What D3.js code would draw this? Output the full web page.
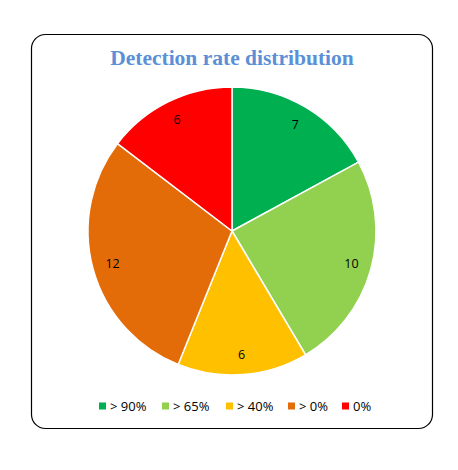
<!DOCTYPE html>
<html>
<head>
<meta charset="utf-8">
<script src="https://cdn.jsdelivr.net/npm/d3@7"></script>
<style>
body { margin: 0; background: #fff; }
</style>
</head>
<body>
<div id="chart"></div>
<script>
const categories = ["> 90%", "> 65%", "> 40%", "> 0%", "0%"]
const counts = [7, 10, 6, 12, 6]
const colors = ["#00B050", "#92D050", "#FFC000", "#E36C09", "#FF0000"]

const width = 458, height = 470
const cx = 232, cy = 231, radius = 144

const svg = d3.select("#chart")
    .append("svg")
    .attr("width", width)
    .attr("height", height)

// frame
svg.append("rect")
    .attr("x", 31.5).attr("y", 34.5)
    .attr("width", 401).attr("height", 394)
    .attr("rx", 14).attr("ry", 14)
    .attr("fill", "#fff")
    .attr("stroke", "#000")
    .attr("stroke-width", 1.2)

svg.append("text")
    .attr("x", cx).attr("y", 65)
    .attr("text-anchor", "middle")
    .attr("font-family", "Liberation Serif, DejaVu Serif, serif")
    .attr("font-weight", "bold")
    .attr("font-size", 21.5)
    .attr("fill", "#5B8FD6")
    .text("Detection rate distribution")

const pie = d3.pie().sort(null).value(d => d)
const arcs = pie(counts)
const arc = d3.arc().innerRadius(0).outerRadius(radius)
const labelArc = d3.arc().innerRadius(radius * 0.86).outerRadius(radius * 0.86)

const g = svg.append("g").attr("transform", `translate(${cx},${cy})`)

g.selectAll(".slice")
    .data(arcs)
    .enter().append("path")
    .attr("class", "slice")
    .attr("d", arc)
    .attr("fill", (d, i) => colors[i])
    .attr("stroke", "#fff")
    .attr("stroke-width", 1.5)

g.selectAll(".lbl")
    .data(arcs)
    .enter().append("text")
    .attr("class", "lbl")
    .attr("transform", d => `translate(${labelArc.centroid(d)})`)
    .attr("text-anchor", "middle")
    .attr("dy", "0.35em")
    .attr("font-family", "Open Sans, Liberation Sans, sans-serif")
    .attr("font-size", 12.5)
    .attr("fill", "#000")
    .text(d => d.data)

// legend
const legendX = [99, 162, 226, 288, 342]
const legend = svg.selectAll(".legend")
    .data(categories)
    .enter().append("g")
    .attr("class", "legend")
    .attr("transform", (d, i) => `translate(${legendX[i]},406)`)

legend.append("rect")
    .attr("x", 0).attr("y", -3.5)
    .attr("width", 7).attr("height", 7)
    .attr("fill", (d, i) => colors[i])

legend.append("text")
    .attr("x", 11).attr("dy", "0.35em")
    .attr("font-family", "Open Sans, Liberation Sans, sans-serif")
    .attr("font-size", 13)
    .attr("fill", "#000")
    .text(d => d)
</script>
</body>
</html>
